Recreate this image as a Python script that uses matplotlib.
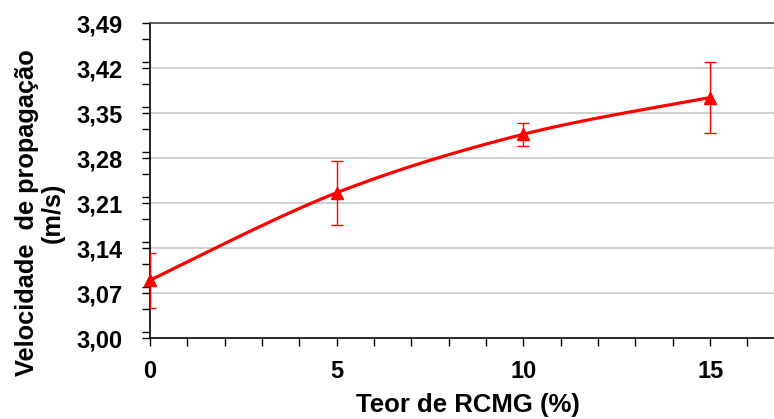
import numpy as np
import matplotlib.pyplot as plt
from matplotlib.ticker import MultipleLocator, FuncFormatter

# dados
teor = [0, 5, 10, 15]
velocidade = [3.090, 3.226, 3.317, 3.374]
erro = [0.043, 0.050, 0.018, 0.055]
y_ticks = [3.00, 3.07, 3.14, 3.21, 3.28, 3.35, 3.42, 3.49]
x_ticks = [0, 5, 10, 15]

plt.rcParams['font.family'] = ['Liberation Sans', 'DejaVu Sans']
plt.rcParams['font.weight'] = 'bold'


def smooth_curve(xs, ys, n=60):
    # curva suavizada tipo Excel (bezier com tangentes catmull-rom)
    pts = np.column_stack([xs, ys]).astype(float)
    ext = np.vstack([pts[0], pts, pts[-1]])
    out = []
    for i in range(len(pts) - 1):
        p0, p1, p2, p3 = ext[i], ext[i + 1], ext[i + 2], ext[i + 3]
        c1 = p1 + (p2 - p0) / 6.0
        c2 = p2 - (p3 - p1) / 6.0
        t = np.linspace(0, 1, n)[:, None]
        seg = ((1 - t) ** 3) * p1 + 3 * ((1 - t) ** 2) * t * c1 \
            + 3 * (1 - t) * t ** 2 * c2 + t ** 3 * p2
        out.append(seg)
    out = np.vstack(out)
    return out[:, 0], out[:, 1]


fig = plt.figure(figsize=(7.74, 4.19), dpi=100)
ax = fig.add_axes([150 / 774, 1 - 338 / 419, 1 - 150 / 774, 315 / 419])

sx, sy = smooth_curve(teor, velocidade)
ax.plot(sx, sy, color='#ff0000', lw=2.3, zorder=3, solid_capstyle='round')
ax.errorbar(teor, velocidade, yerr=erro, fmt='none', ecolor='#ff0000',
            elinewidth=1.0, capsize=4, capthick=1.0, zorder=3)
ax.plot(teor, velocidade, ls='none', marker='^', color='#ff0000',
        markersize=8, zorder=4, clip_on=False)

ax.set_xlim(0, 16.71)
ax.set_ylim(3.00, 3.49)
ax.set_xticks(x_ticks)
ax.set_yticks(y_ticks)
ax.xaxis.set_minor_locator(MultipleLocator(1))
ax.yaxis.set_minor_locator(MultipleLocator(0.035))
ax.yaxis.set_major_formatter(FuncFormatter(lambda v, p: f'{v:.2f}'.replace('.', ',')))

for yv in y_ticks[1:-1]:
    ax.axhline(yv, color='#c8c8c8', lw=1.2, zorder=1)

ax.tick_params(axis='both', which='both', direction='out', color='black', width=1.0)
ax.tick_params(axis='both', which='major', length=6, labelsize=17)
ax.tick_params(axis='both', which='minor', length=6)
ax.tick_params(axis='x', pad=10)
ax.tick_params(axis='y', pad=14)

ax.spines['right'].set_visible(False)
ax.spines['top'].set_color('#404040')
ax.spines['left'].set_color('black')
ax.spines['bottom'].set_color('black')
for s in ax.spines.values():
    s.set_linewidth(1.2)

fig.text(468 / 774, 1 - 405 / 419, 'Teor de RCMG (%)', ha='center', va='center',
         fontsize=18.5, fontweight='bold')
fig.text(40 / 774, 1 - 213 / 419, 'Velocidade  de propagação\n(m/s)', rotation=90,
         ha='center', va='center', multialignment='center',
         fontsize=18.3, fontweight='bold', linespacing=1.1)

fig.savefig('out.png', dpi=100)
